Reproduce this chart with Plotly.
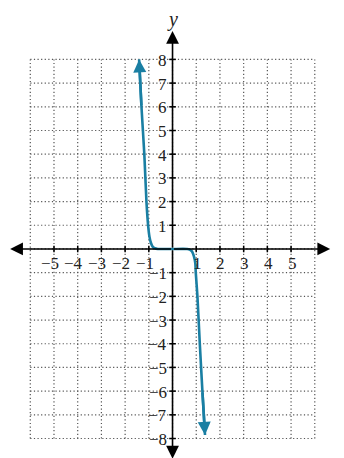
import plotly.graph_objects as go

# curve (two branches of an odd, flat-in-the-middle function)
left_x = [-1.41, -1.31, -1.19, -1.10, -1.03, -0.97, -0.91, -0.84, -0.75, -0.62, 0.0]
left_y = [8.0, 6.0, 4.0, 2.0, 1.0, 0.5, 0.25, 0.1, 0.03, 0.0, 0.0]
right_x = [0.0, 0.62, 0.72, 0.82, 0.90, 0.96, 0.98, 1.05, 1.15, 1.26, 1.37]
right_y = [0.0, 0.0, -0.03, -0.1, -0.3, -0.6, -1.0, -2.0, -4.0, -6.0, -7.85]

x_ticks = [-5, -4, -3, -2, -1, 1, 2, 3, 4, 5]
y_ticks = [-8, -7, -6, -5, -4, -3, -2, -1, 1, 2, 3, 4, 5, 6, 7, 8]
x_grid = list(range(-6, 7))
y_grid = list(range(-8, 9))

teal = "#1a7fa3"
serif = "Liberation Serif"

fig = go.Figure()
fig.add_trace(go.Scatter(x=left_x + right_x[1:], y=left_y + right_y[1:], mode="lines",
                         line=dict(color=teal, width=2.6, shape="spline", smoothing=0.6),
                         hoverinfo="skip"))

shapes = []
# dotted grid, only inside the -6..6 / -8..8 box
for gx in x_grid:
    shapes.append(dict(type="line", xref="x", yref="y", x0=gx, x1=gx, y0=-8, y1=8,
                       line=dict(color="#555", width=1.2, dash="1.2px,2.4px"), layer="below"))
for gy in y_grid:
    shapes.append(dict(type="line", xref="x", yref="y", x0=-6, x1=6, y0=gy, y1=gy,
                       line=dict(color="#555", width=1.2, dash="1.2px,2.4px"), layer="below"))
# tick marks across the axes
for t in x_ticks:
    shapes.append(dict(type="line", xref="x", yref="y", x0=t, x1=t, y0=-0.14, y1=0.14,
                       line=dict(color="black", width=1.5)))
for t in y_ticks:
    shapes.append(dict(type="line", xref="x", yref="y", x0=-0.14, x1=0.14, y0=t, y1=t,
                       line=dict(color="black", width=1.5)))

ann = []
# axes with arrowheads, drawn from the origin outwards
for tx, ty in [(6.65, 0), (-6.85, 0), (0, 9.2), (0, -8.85)]:
    ann.append(dict(x=tx, y=ty, ax=0, ay=0, xref="x", yref="y", axref="x", ayref="y",
                    showarrow=True, arrowhead=2, arrowsize=1.6, arrowwidth=1.6,
                    arrowcolor="black", text="", standoff=0))
# arrow tips of the curve
for tx, ty, bx, by in [(left_x[0], left_y[0], left_x[1], left_y[1]),
                       (right_x[-1], right_y[-1], right_x[-2], right_y[-2])]:
    ann.append(dict(x=tx, y=ty, ax=bx, ay=by, xref="x", yref="y", axref="x", ayref="y",
                    showarrow=True, arrowhead=2, arrowsize=1.0, arrowwidth=2.6,
                    arrowcolor=teal, text="", standoff=0))
# tick labels
for t in x_ticks:
    ann.append(dict(x=t, y=0, xref="x", yref="y", showarrow=False,
                    text=("\u2212" + str(-t)) if t < 0 else str(t),
                    yshift=-15, xshift=-4 if t < 0 else 1,
                    font=dict(family=serif, size=17, color="#222")))
for t in y_ticks:
    ann.append(dict(x=0, y=t, xref="x", yref="y", showarrow=False,
                    text=("\u2212" + str(-t)) if t < 0 else str(t),
                    xanchor="right", xshift=-4, yshift=-1,
                    font=dict(family=serif, size=17, color="#222")))
ann.append(dict(x=0, y=9.7, xref="x", yref="y", showarrow=False, text="<i>y</i>",
                font=dict(family=serif, size=20, color="#222")))
ann.append(dict(x=7.0, y=0.1, xref="x", yref="y", showarrow=False, text="<i>x</i>",
                xanchor="left", font=dict(family=serif, size=20, color="#222")))

# the page puts the figure 8px in from the top-left, ranges account for that
fig.update_layout(
    width=344, height=458,
    margin=dict(l=0, r=0, t=0, b=0),
    plot_bgcolor="white", paper_bgcolor="white",
    showlegend=False,
    shapes=shapes, annotations=ann,
    xaxis=dict(range=[-6.94, 7.57], visible=False, fixedrange=True),
    yaxis=dict(range=[-9.16, 10.17], visible=False, fixedrange=True),
)

fig.write_html("out.html")
